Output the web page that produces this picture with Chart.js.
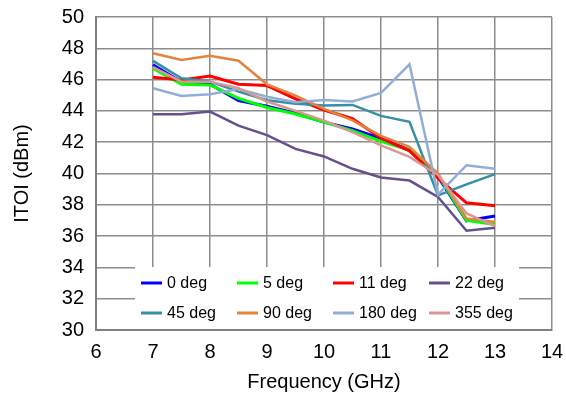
<!DOCTYPE html>
<html>
<head>
<meta charset="utf-8">
<script src="https://cdn.jsdelivr.net/npm/chart.js@4.4.1/dist/chart.umd.min.js"></script>
<style>
  html, body { margin: 0; padding: 0; background: #fff; }
  #wrap { width: 566px; height: 398px; }
</style>
</head>
<body>
<div id="wrap"><canvas id="itoi-chart" width="566" height="398"></canvas></div>
<script>
// frequency points (GHz)
const freqs = [7, 7.5, 8, 8.5, 9, 9.5, 10, 10.5, 11, 11.5, 12, 12.5, 13];

// ITOI per angle (dBm)
const deg0   = [46.95, 45.85, 45.70, 44.66, 44.30, 43.85, 43.28, 42.85, 42.25, 41.50, 39.80, 36.98, 37.28];
const deg5   = [46.72, 45.70, 45.66, 44.80, 44.22, 43.80, 43.28, 42.74, 42.05, 41.50, 39.90, 37.00, 36.74];
const deg11  = [46.15, 45.98, 46.23, 45.70, 45.62, 44.77, 44.06, 43.50, 42.25, 41.45, 39.70, 38.13, 37.94];
const deg22  = [43.79, 43.79, 43.96, 43.06, 42.45, 41.57, 41.09, 40.30, 39.75, 39.55, 38.50, 36.34, 36.53];
const deg45  = [47.20, 46.08, 45.87, 45.23, 44.68, 44.45, 44.34, 44.38, 43.68, 43.30, 38.60, 39.30, 39.96];
const deg90  = [47.68, 47.26, 47.53, 47.21, 45.70, 44.98, 44.13, 43.40, 42.40, 41.70, 40.00, 37.13, 36.90];
const deg180 = [45.45, 44.96, 45.06, 45.40, 44.90, 44.55, 44.70, 44.60, 45.15, 46.98, 38.65, 40.53, 40.30];
const deg355 = [46.80, 45.87, 45.87, 45.45, 44.60, 44.00, 43.38, 42.64, 41.80, 41.06, 39.90, 37.45, 36.64];

const seriesNames = ['0 deg', '5 deg', '11 deg', '22 deg', '45 deg', '90 deg', '180 deg', '355 deg'];
const seriesData = [deg0, deg5, deg11, deg22, deg45, deg90, deg180, deg355];
const seriesColors = ['#0000FF', '#00FF00', '#FF0000', '#674F8C', '#3590A4', '#E2843E', '#93AED6', '#D99694'];
const seriesWidths = [3, 3, 3, 2.5, 2.5, 2.5, 2.5, 2.5];

const FONT = 'Liberation Sans, Arial, sans-serif';

// legend sits inside the plot, white box over the grid
const boxLegend = {
  id: 'boxLegend',
  afterDraw(chart) {
    const ctx = chart.ctx;
    ctx.save();
    ctx.fillStyle = '#fff';
    ctx.fillRect(135, 267, 384, 62);
    ctx.font = '16px ' + FONT;
    ctx.textBaseline = 'middle';
    chart.data.datasets.forEach((ds, i) => {
      const col = i % 4, row = Math.floor(i / 4);
      const x = 141 + col * 96;
      const y = 283 + row * 30;
      ctx.strokeStyle = ds.borderColor;
      ctx.lineWidth = 3;
      ctx.beginPath();
      ctx.moveTo(x, y);
      ctx.lineTo(x + 21, y);
      ctx.stroke();
      ctx.fillStyle = '#000';
      ctx.fillText(ds.label, x + 26, y + 1);
    });
    ctx.restore();
  }
};

new Chart(document.getElementById('itoi-chart'), {
  type: 'line',
  data: {
    datasets: seriesNames.map((name, i) => ({
      label: name,
      data: freqs.map((f, k) => ({ x: f, y: seriesData[i][k] })),
      borderColor: seriesColors[i],
      backgroundColor: seriesColors[i],
      borderWidth: seriesWidths[i],
      pointRadius: 0,
      tension: 0,
      order: seriesNames.length - i,
    }))
  },
  options: {
    responsive: false,
    animation: false,
    layout: { padding: { top: 17, right: 14, left: 0, bottom: 0 } },
    plugins: {
      legend: { display: false },
      tooltip: { enabled: false },
    },
    scales: {
      x: {
        type: 'linear',
        min: 6, max: 14,
        afterFit(scale) {
          scale.height = 68;
          scale.paddingLeft = 0;
          scale.paddingRight = 0;
        },
        ticks: { stepSize: 1, padding: 10, color: '#000', font: { family: FONT, size: 20 } },
        grid: { color: '#8c8c8c', lineWidth: 1.5, drawTicks: false },
        border: { color: '#808080', width: 2 },
        title: { display: true, text: 'Frequency (GHz)', color: '#000', font: { family: FONT, size: 20 }, padding: { top: 4, bottom: 4 } },
      },
      y: {
        min: 30, max: 50,
        afterFit(scale) {
          scale.width = 96;
          scale.paddingTop = 0;
          scale.paddingBottom = 0;
        },
        ticks: { stepSize: 2, padding: 12, color: '#000', font: { family: FONT, size: 20 } },
        grid: { color: '#8c8c8c', lineWidth: 1.5, drawTicks: false },
        border: { color: '#808080', width: 2 },
        title: { display: true, text: 'ITOI (dBm)', color: '#000', font: { family: FONT, size: 20 }, padding: { top: 10, bottom: 4 } },
      }
    }
  },
  plugins: [boxLegend]
});
</script>
</body>
</html>
